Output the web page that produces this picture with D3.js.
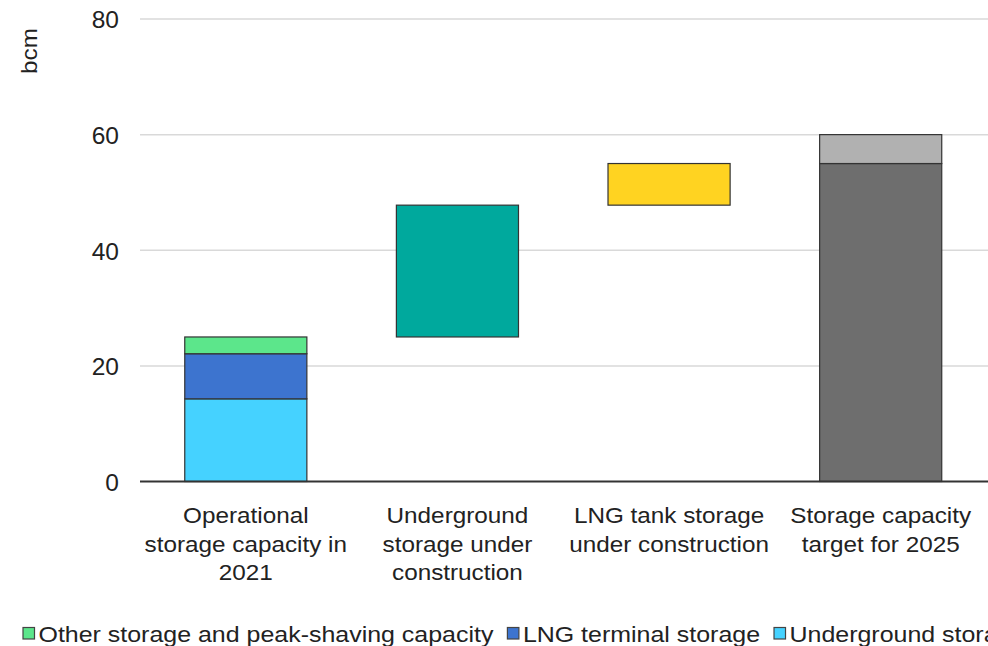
<!DOCTYPE html>
<html>
<head>
<meta charset="utf-8">
<script src="https://cdn.jsdelivr.net/npm/d3@7"></script>
<style>
  html, body { margin: 0; padding: 0; background: #fff; }
  svg { display: block; font-family: "Liberation Sans", Arial, sans-serif; }
</style>
</head>
<body>
<svg id="chart" width="988" height="646"></svg>
<script>
// Categories along the x axis (each label split into lines)
const categories = [
  "Operational storage capacity in 2021",
  "Underground storage under construction",
  "LNG tank storage under construction",
  "Storage capacity target for 2025"
];
const categoryLines = [
  ["Operational", "storage capacity in", "2021"],
  ["Underground", "storage under", "construction"],
  ["LNG tank storage", "under construction"],
  ["Storage capacity", "target for 2025"]
];

// Stacked components of the 2021 operational capacity (bcm)
const operationalSeries = ["Underground storage", "LNG terminal storage", "Other storage and peak-shaving capacity"];
const operationalValues = [14.3, 7.8, 2.9];

// Floating waterfall steps (bcm added)
const undergroundAdded = 22.8;
const lngTankAdded = 7.2;

// Target for 2025 split (bcm)
const targetValues = [55, 5];

// Legend entries (drawn in this order)
const legendItems = ["Other storage and peak-shaving capacity", "LNG terminal storage", "Underground storage"];

const yTicks = [0, 20, 40, 60, 80];

const colors = {
  "Underground storage": "#45D2FF",
  "LNG terminal storage": "#3D74CF",
  "Other storage and peak-shaving capacity": "#5CE68B",
  underground: "#00A99D",
  lngTank: "#FFD321",
  targetMain: "#6E6E6E",
  targetExtra: "#B1B1B1"
};

const svg = d3.select("#chart");
const fontSize = 22.8;
const stretch = 1.065;       // slightly wide lettering
const legendStretch = 1.095;

const x = d3.scaleBand()
  .domain(categories)
  .range([140, 986.5])
  .paddingInner(0.423)
  .paddingOuter(0.2115);

const y = d3.scaleLinear()
  .domain([0, 80])
  .range([481.5, 19]);

// Gridlines
svg.append("g")
  .selectAll("line")
  .data(yTicks.filter(d => d !== 0))
  .join("line")
  .attr("x1", 140).attr("x2", 988)
  .attr("y1", d => y(d)).attr("y2", d => y(d))
  .attr("stroke", "#d9d9d9")
  .attr("stroke-width", 1.5);

// Y axis tick labels
const yAxis = d3.axisLeft(y).tickValues(yTicks).tickSize(0).tickPadding(0);
const yg = svg.append("g").attr("transform", "translate(119,0)").call(yAxis);
yg.select(".domain").remove();
yg.selectAll("text")
  .attr("font-size", 24.5)
  .attr("font-family", "Liberation Sans, Arial, sans-serif")
  .attr("fill", "#222")
  .attr("dy", "0.36em");

// Unit label
svg.append("text")
  .attr("transform", `translate(37,51) rotate(-90) scale(${stretch},1)`)
  .attr("text-anchor", "middle")
  .attr("font-size", fontSize)
  .attr("fill", "#222")
  .text("bcm");

// Build bar segments from the data
const segments = [];
let base = 0;
operationalSeries.forEach((s, i) => {
  segments.push({ cat: categories[0], y0: base, y1: base + operationalValues[i], color: colors[s] });
  base += operationalValues[i];
});
const opTotal = base;
segments.push({ cat: categories[1], y0: opTotal, y1: opTotal + undergroundAdded, color: colors.underground });
const afterUnderground = opTotal + undergroundAdded;
segments.push({ cat: categories[2], y0: afterUnderground, y1: afterUnderground + lngTankAdded, color: colors.lngTank });
segments.push({ cat: categories[3], y0: 0, y1: targetValues[0], color: colors.targetMain });
segments.push({ cat: categories[3], y0: targetValues[0], y1: targetValues[0] + targetValues[1], color: colors.targetExtra });

svg.append("g")
  .selectAll("rect")
  .data(segments)
  .join("rect")
  .attr("x", d => x(d.cat))
  .attr("width", x.bandwidth())
  .attr("y", d => y(d.y1))
  .attr("height", d => y(d.y0) - y(d.y1))
  .attr("fill", d => d.color)
  .attr("stroke", "#333")
  .attr("stroke-width", 1.2);

// Baseline axis
svg.append("line")
  .attr("x1", 140).attr("x2", 988)
  .attr("y1", y(0)).attr("y2", y(0))
  .attr("stroke", "#333")
  .attr("stroke-width", 2);

// Category labels
const catG = svg.append("g");
categories.forEach((c, i) => {
  const cx = x(c) + x.bandwidth() / 2;
  const t = catG.append("text")
    .attr("transform", `translate(${cx},523) scale(${stretch},1)`)
    .attr("text-anchor", "middle")
    .attr("font-size", fontSize)
    .attr("fill", "#222");
  categoryLines[i].forEach((line, j) => {
    t.append("tspan")
      .attr("x", 0)
      .attr("y", j * 28.7)
      .text(line);
  });
});

// Legend (runs past the right edge, as a single row)
const legend = svg.append("g");
let lx = 23;
legendItems.forEach(name => {
  legend.append("rect")
    .attr("x", lx).attr("y", 627.5)
    .attr("width", 11.5).attr("height", 11.5)
    .attr("fill", colors[name])
    .attr("stroke", "#444")
    .attr("stroke-width", 1.2);
  const tx = lx + 15.5;
  const t = legend.append("text")
    .attr("transform", `translate(${tx},641.5) scale(${legendStretch},1)`)
    .attr("font-size", fontSize)
    .attr("fill", "#222")
    .text(name);
  lx = tx + t.node().getComputedTextLength() * legendStretch + 14;
});
</script>
</body>
</html>
